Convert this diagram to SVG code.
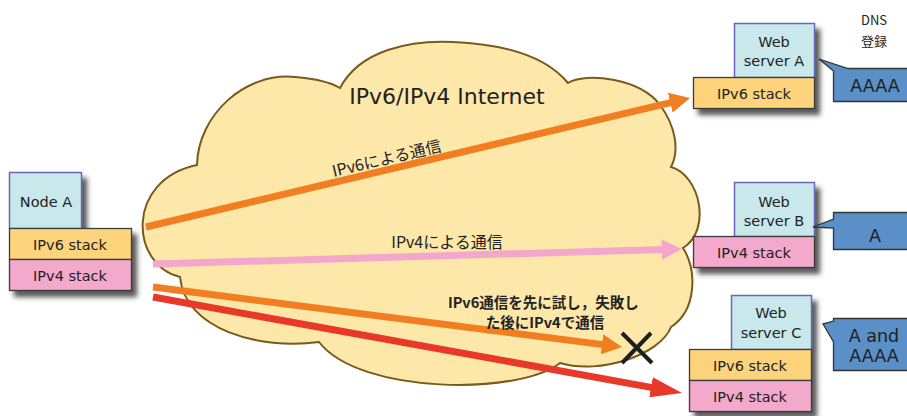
<svg xmlns="http://www.w3.org/2000/svg" width="907" height="416" viewBox="0 0 907 416">
  <style>
    .lbl { font-family: "DejaVu Sans", "Noto Sans CJK JP", sans-serif; fill: #222; }
    .jp { font-family: "Noto Sans CJK JP", "DejaVu Sans", sans-serif; fill: #222; }
    .host { fill: #C9E8EC; stroke: #6868B8; stroke-width: 1.5; }
    .v6 { fill: #FDD47C; stroke: #3a3a3a; stroke-width: 1.3; }
    .v4 { fill: #F3A9CB; stroke: #3a3a3a; stroke-width: 1.3; }
    .dns { fill: #5B8FC8; stroke: #333; stroke-width: 1.3; }
    .box-text { font-size: 14.5px; text-anchor: middle; }
    .dns-text { font-size: 17.5px; text-anchor: middle; }
    .arrow { fill: none; stroke-width: 7; stroke-linecap: butt; }
  </style>
  <defs>
    <filter id="shadow" x="-20%" y="-20%" width="150%" height="150%">
      <feDropShadow dx="5" dy="6" stdDeviation="2.5" flood-color="#3c3c3c" flood-opacity="0.85"/>
    </filter>
    <marker id="head-orange" viewBox="0 0 2.9 2.9" refX="0.2" refY="1.45" markerWidth="2.9" markerHeight="2.9" orient="auto">
      <path d="M0,0 L2.9,1.45 L0,2.9 Z" fill="#F17F22"/>
    </marker>
    <marker id="head-pink" viewBox="0 0 2.9 2.9" refX="0.2" refY="1.45" markerWidth="2.9" markerHeight="2.9" orient="auto">
      <path d="M0,0 L2.9,1.45 L0,2.9 Z" fill="#F2A7CB"/>
    </marker>
    <marker id="head-red" viewBox="0 0 4.5 2.9" refX="0.2" refY="1.45" markerWidth="4.5" markerHeight="2.9" orient="auto">
      <path d="M0,0 L4.5,1.45 L0,2.9 Z" fill="#E8382A"/>
    </marker>
  </defs>

  <rect width="907" height="416" fill="#ffffff"/>

  <!-- the Internet cloud -->
  <g id="internet">
    <path d="M197,165 C198,115 245,72 295,77 C318,79 332,83 340,88
             C360,50 410,40 453,42 C500,44 545,55 568,83
             C585,72 640,78 660,105 C675,125 680,150 671,167
             C700,175 712,230 683,248
             C697,270 697,310 671,327
             C660,355 600,375 560,363
             C520,395 360,395 319,342
             C260,350 185,330 180,277
             C130,265 125,180 197,165 Z"
          fill="#FDE7A9" stroke="#7A5A1C" stroke-width="2"/>
    <text class="lbl" x="447" y="104" font-size="22" text-anchor="middle">IPv6/IPv4 Internet</text>
  </g>

  <!-- connectors -->
  <g id="connectors">
    <path class="arrow" d="M146,227 L671.6,102.4" stroke="#F17F22" marker-end="url(#head-orange)"/>
    <path class="arrow" d="M153,264 L663.1,249.5" stroke="#F2A7CB" marker-end="url(#head-pink)"/>
    <path class="arrow" d="M153,287 L603.3,344.6" stroke="#F17F22" marker-end="url(#head-orange)"/>
    <path class="arrow" d="M153,297 L652.4,387.6" stroke="#E8382A" marker-end="url(#head-red)"/>
    <g id="fail-mark" stroke="#1e1e1e" stroke-width="4">
      <line x1="622" y1="333" x2="652" y2="363"/>
      <line x1="651" y1="333" x2="622" y2="363"/>
    </g>
    <text class="jp" font-size="16" text-anchor="middle" transform="translate(388,164) rotate(-13.4)">IPv6による通信</text>
    <text class="jp" x="447" y="248" font-size="16" text-anchor="middle">IPv4による通信</text>
    <text class="jp" font-size="14.5" font-weight="bold" text-anchor="middle">
      <tspan x="545" y="308">IPv6通信を先に試し，失敗し</tspan>
      <tspan x="545" y="328">た後にIPv4で通信</tspan>
    </text>
  </g>

  <!-- client node -->
  <g id="node-a" filter="url(#shadow)">
    <rect class="host" x="9.5" y="172.5" width="72" height="56"/>
    <rect class="v6" x="9.5" y="228.5" width="122" height="31"/>
    <rect class="v4" x="9.5" y="259.5" width="122" height="31"/>
  </g>
  <g id="node-a-text" class="lbl box-text">
    <text x="46" y="207">Node A</text>
    <text x="70" y="250">IPv6 stack</text>
    <text x="70" y="281">IPv4 stack</text>
  </g>

  <!-- web server A: IPv6 only -->
  <g id="server-a">
    <g filter="url(#shadow)">
      <rect class="host" x="734.5" y="23.5" width="80" height="54"/>
      <rect class="v6" x="693.5" y="77.5" width="121" height="31"/>
    </g>
    <g class="lbl box-text">
      <text x="774" y="47">Web</text>
      <text x="774" y="66">server A</text>
      <text x="754" y="99">IPv6 stack</text>
    </g>
  </g>

  <!-- web server B: IPv4 only -->
  <g id="server-b">
    <g filter="url(#shadow)">
      <rect class="host" x="734.5" y="182.5" width="80" height="54"/>
      <rect class="v4" x="693.5" y="236.5" width="121" height="31"/>
    </g>
    <g class="lbl box-text">
      <text x="774" y="207">Web</text>
      <text x="774" y="226">server B</text>
      <text x="754" y="258">IPv4 stack</text>
    </g>
  </g>

  <!-- web server C: dual stack -->
  <g id="server-c">
    <g filter="url(#shadow)">
      <rect class="host" x="731.5" y="295.5" width="80" height="54"/>
      <rect class="v6" x="689.5" y="349.5" width="122" height="31"/>
      <rect class="v4" x="689.5" y="380.5" width="122" height="31"/>
    </g>
    <g class="lbl box-text">
      <text x="771" y="318">Web</text>
      <text x="771" y="338">server C</text>
      <text x="750" y="371">IPv6 stack</text>
      <text x="750" y="402">IPv4 stack</text>
    </g>
  </g>

  <!-- DNS records -->
  <g id="dns-heading" class="jp" font-size="13" text-anchor="middle">
    <text x="874" y="25">DNS</text>
    <text x="874" y="46">登録</text>
  </g>
  <g id="dns-a">
    <path class="dns" d="M819,59 L848,68.5 L912,68.5 L912,101.5 L833.5,101.5 L833.5,71 Z"/>
    <text class="lbl dns-text" x="875" y="92">AAAA</text>
  </g>
  <g id="dns-b">
    <path class="dns" d="M833.5,212.5 L912,212.5 L912,249.5 L833.5,249.5 L833.5,228 L813,227 L833.5,219 Z"/>
    <text class="lbl dns-text" x="875" y="242" font-size="20">A</text>
  </g>
  <g id="dns-c">
    <path class="dns" d="M833.5,318.5 L912,318.5 L912,370.5 L833.5,370.5 L833.5,342 L823,324 L833.5,321 Z"/>
    <text class="lbl dns-text" x="874" y="342">A and</text>
    <text class="lbl dns-text" x="874" y="362">AAAA</text>
  </g>
</svg>
